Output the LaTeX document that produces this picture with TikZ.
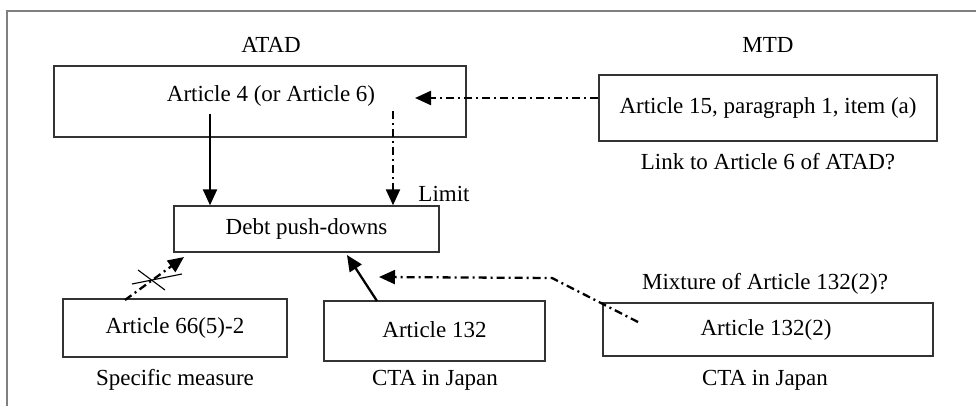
\documentclass[tikz,border=0pt]{standalone}
\usepackage{fontspec}
\setmainfont{Liberation Serif}
\usetikzlibrary{arrows.meta}
\begin{document}
\begin{tikzpicture}[x=1pt,y=-1pt,
  font=\fontsize{23}{27}\selectfont,
  box/.style={draw=black!80,line width=1.4pt,inner sep=0pt},
  txt/.style={inner sep=0pt,anchor=center},
  sarrow/.style={line width=2.3pt,-{Triangle[length=16pt,width=14pt]}},
  dd/.style={line width=2.3pt,dash pattern=on 8pt off 4pt on 2pt off 4pt},
  darrow/.style={dd,-{Triangle[length=16pt,width=14pt]}},
  thin line/.style={line width=1.1pt}]
\useasboundingbox (0,0) rectangle (976,406);
\draw[gray,line width=2pt] (7,406) -- (7,11) -- (976,11);
% boxes
\node[box,minimum width=412,minimum height=71] (a4) at (260,101.5) {};
\node[box,minimum width=338,minimum height=66] (a15) at (768,108) {};
\node[box,minimum width=265,minimum height=46] (debt) at (306.5,229) {};
\node[box,minimum width=224,minimum height=58] (a66) at (175,328) {};
\node[box,minimum width=221,minimum height=60] (a132) at (434.5,331) {};
\node[box,minimum width=330,minimum height=53] (a1322) at (768,329.5) {};
% texts
\node[txt] (atad) at (271,45) {ATAD};
\node[txt] (mtd) at (768,45) {MTD};
\node[txt] (a4t) at (271,96) {Article 4 (or Article 6)};
\node[txt] (a15t) at (768,108) {Article 15, paragraph 1, item (a)};
\node[txt] (link) at (768,162) {Link to Article 6 of ATAD?};
\node[txt] (debtt) at (306.5,229) {Debt push-downs};
\node[txt] (a66t) at (175,328) {Article 66(5)-2};
\node[txt] (spec) at (175,380) {Specific measure};
\node[txt] (a132t) at (434.5,330) {Article 132};
\node[txt] (cta1) at (435,380) {CTA in Japan};
\node[txt] (a1322t) at (766,330) {Article 132(2)};
\node[txt] (mix) at (765,284) {Mixture of Article 132(2)?};
\node[txt] (cta2) at (765,380) {CTA in Japan};
\node[txt] (limit) at (444,194) {Limit};
% connectors
\coordinate (s1) at (210,114);
\draw[sarrow] (s1) -- (s1 |- debt.north);
\coordinate (s2) at (393,111);
\draw[darrow] (s2) -- (s2 |- debt.north);
\coordinate (t15) at (415,98);
\draw[darrow] (a15.west |- t15) -- (t15);
\coordinate (s66) at (125,300);
\coordinate (t66) at (184,257);
\draw[darrow] (s66) -- (t66);
\coordinate (c1a) at (138,270);
\coordinate (c1b) at (165,290);
\coordinate (c2a) at (132,284);
\coordinate (c2b) at (182,274);
\draw[thin line] (c1a) -- (c1b);
\draw[thin line] (c2a) -- (c2b);
\coordinate (s132) at (377,301);
\coordinate (t132) at (347,255);
\draw[sarrow] (s132) -- (t132);
\coordinate (s1322) at (638,322);
\coordinate (b1322) at (552,278);
\coordinate (t1322) at (379,277);
\draw[darrow] (s1322) -- (b1322) -- (t1322);
\end{tikzpicture}
\end{document}
